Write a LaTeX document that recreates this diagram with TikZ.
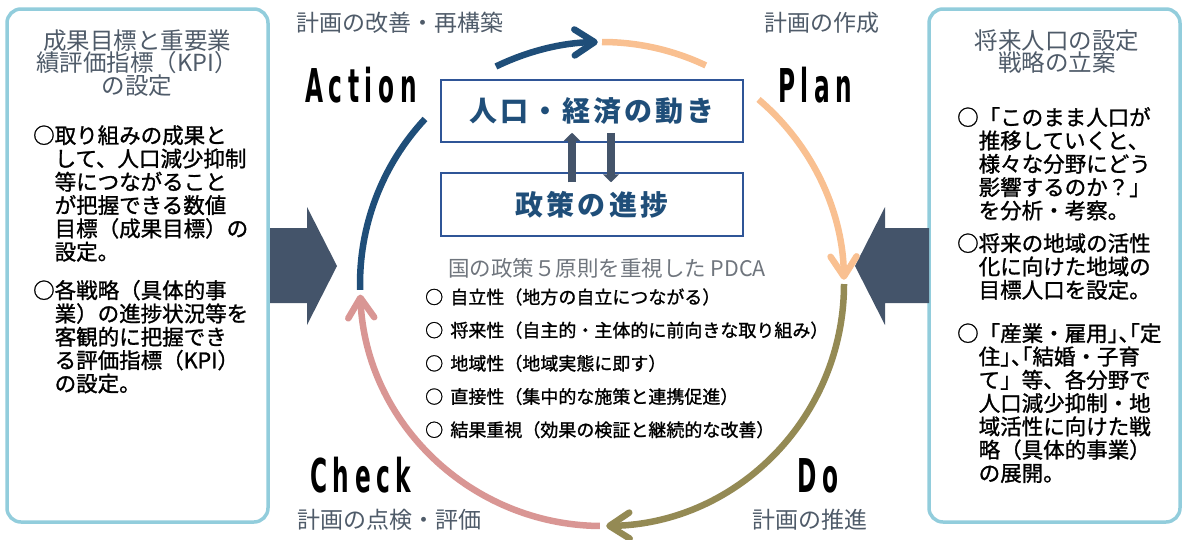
\documentclass[tikz,border=0pt]{standalone}
\usepackage{fontspec}
\usepackage{graphicx}
\usetikzlibrary{arrows.meta}
\setmainfont{Noto Sans CJK JP}
\newfontfamily\pdcafont[LetterSpace=24]{DejaVu Sans}
\newfontfamily\jpbody[FakeBold=1.2]{Noto Sans CJK JP}
\definecolor{sideline}{HTML}{92CDDC}
\definecolor{slate}{HTML}{44546A}
\definecolor{darkblue}{HTML}{1F4E79}
\definecolor{boxblue}{HTML}{2F5597}
\definecolor{arcblue}{HTML}{1F4E79}
\definecolor{arcorange}{HTML}{F9C091}
\definecolor{arcolive}{HTML}{948A54}
\definecolor{arcpink}{HTML}{D99694}
\definecolor{lblcol}{HTML}{4F5B69}
\definecolor{titlecol}{HTML}{6F757D}
\newcommand{\hwl}[1]{\makebox[0.5em][l]{#1}}
\newcommand{\hwr}[1]{\makebox[0.5em][r]{#1}}
\newcommand{\fstrut}{\rule{0pt}{0.88em}}
\newcommand{\nolsl}{\lineskiplimit -50pt\relax}
\tikzset{
  sidebox/.style={draw=sideline, line width=3.5pt, rounded corners=14pt, fill=white, inner sep=0pt},
  bigarrow/.style={fill=slate, draw=none},
  flowbox/.style={draw=boxblue, line width=1.5pt, fill=white, minimum width=302pt, inner sep=0pt,
    text=darkblue, font=\fontsize{28}{30}\selectfont\bfseries\addfontfeature{LetterSpace=11}},
  hdrtext/.style={inner sep=0pt, align=center, text=lblcol,
    font=\fontsize{23.5}{22.5}\selectfont\nolsl},
  bodytext/.style={inner sep=0pt, align=left, text=black, anchor=north west,
    font=\jpbody\fontsize{21.5}{23.3}\selectfont\nolsl},
  steplabel/.style={inner sep=0pt, anchor=west, text=lblcol, font=\fontsize{23}{25}\selectfont},
  pdcalabel/.style={inner sep=0pt, anchor=base west, text=black,
    font=\pdcafont\bfseries\fontsize{46.6}{50}\selectfont},
  listtext/.style={inner sep=0pt, align=left, text=black, anchor=north west,
    font=\jpbody\fontsize{18}{33.2}\selectfont\nolsl},
  arcline/.style={line width=6.5pt},
  arctip/.style={-{Straight Barb[length=20pt,width=26pt,round]}},
  midarrow/.style={draw=slate, line width=7.5pt, -{Triangle[length=8pt,width=16pt]}}
}
\begin{document}
\begin{tikzpicture}[x=1pt,y=-1pt]
\useasboundingbox (0,0) rectangle (1186,539);

% side boxes
\node[sidebox, minimum width=261pt, minimum height=513pt] (lbox) at (137.5,265.5) {};
\node[sidebox, minimum width=251pt, minimum height=513pt] (rbox) at (1054.5,265.5) {};

% big arrows
\fill[bigarrow] (270,228) -- (307,228) -- (307,207) -- (337,266) -- (307,325) -- (307,303) -- (270,303) -- cycle;
\fill[bigarrow] (929,228) -- (885,228) -- (885,207) -- (855,266) -- (885,325) -- (885,303) -- (929,303) -- cycle;

% left box texts
\node[hdrtext, anchor=north] (lhdr) at (137,28.25) {\fstrut 成果目標と重要業\\績評価指標（KPI）\\の設定};
\node[bodytext] (lp1) at (33,124.25) {\fstrut ○取り組みの成果と\\　して、人口減少抑制\\　等につながること\\　が把握できる数値\\　目標（成果目標）の\\　設定。};
\node[bodytext] (lp2) at (33,279.25) {\fstrut ○各戦略（具体的事\\　業）の進捗状況等を\\　客観的に把握でき\\　る評価指標（KPI）\\　の設定。};

% right box texts
\node[hdrtext, anchor=north] (rhdr) at (1057,28.25) {\fstrut 将来人口の設定\\戦略の立案};
\node[bodytext] (rp1) at (957,106.25) {\fstrut ○「このまま人口が\\　推移していくと、\\　様々な分野にどう\\　影響するのか？」\\　を分析・考察。};
\node[bodytext] (rp2) at (957,232.25) {\fstrut ○将来の地域の活性\\　化に向けた地域の\\　目標人口を設定。};
\node[bodytext] (rp3) at (957,322.25) {\fstrut ○「産業・雇用\hwl{」}\hwl{、}\hwr{「}定\\　住\hwl{」}\hwl{、}\hwr{「}結婚・子育\\　て」等、各分野で\\　人口減少抑制・地\\　域活性に向けた戦\\　略（具体的事業）\\　の展開。};

% cycle arcs
\draw[arcline, draw=arcblue] (602,284) ++(178.6:242) arc[start angle=178.6,end angle=223,radius=242];
\draw[arcline, draw=arcblue, arctip] (602,284) ++(244:242) arc[start angle=244,end angle=269,radius=242];
\draw[arcline, draw=arcorange] (602,284) ++(-90:242) arc[start angle=-90,end angle=-64.6,radius=242];
\draw[arcline, draw=arcorange, arctip] (602,284) ++(-49.7:242) arc[start angle=-49.7,end angle=-1,radius=242];
\draw[arcline, draw=arcolive, arctip] (602,284) ++(0:242) arc[start angle=0,end angle=89,radius=242];
\draw[arcline, draw=arcpink, arctip] (602,284) ++(90.5:242) arc[start angle=90.5,end angle=177.5,radius=242];

% step labels
\node[steplabel] (l_act) at (296,23) {計画の改善・再構築};
\node[steplabel] (l_plan) at (764,23) {計画の作成};
\node[steplabel] (l_chk) at (297,520) {計画の点検・評価};
\node[steplabel] (l_do) at (752,520) {計画の推進};

\node[pdcalabel] (act) at (305,102) {\scalebox{0.5}[1]{Action}};
\node[pdcalabel] (plan) at (778,102) {\scalebox{0.5}[1]{Plan}};
\node[pdcalabel] (chk) at (310,492) {\scalebox{0.5}[1]{Check}};
\node[pdcalabel] (do) at (797,492) {\scalebox{0.5}[1]{Do}};

% central boxes
\node[flowbox, minimum height=62pt] (econ) at (592,111) {人口・経済の動き};
\node[flowbox, minimum height=63pt] (policy) at (592,204.5) {政策の進捗};
\draw[midarrow] ([xshift=-20pt,yshift=-10pt]policy.north) -- ([xshift=-20pt,yshift=10pt]econ.south);
\draw[midarrow] ([xshift=19pt,yshift=10pt]econ.south) -- ([xshift=19pt,yshift=-10pt]policy.north);

% principles
\node[inner sep=0pt, text=titlecol, font=\fontsize{21.5}{23}\selectfont] (ttl) at (607,268) {国の政策５原則を重視した PDCA};
\node[listtext] (plist) at (425,287.75) {\fstrut ○\hspace{0.4em}自立性（地方の自立につながる）\\○\hspace{0.4em}将来性（自主的・主体的に前向きな取り組み）\\○\hspace{0.4em}地域性（地域実態に即す）\\○\hspace{0.4em}直接性（集中的な施策と連携促進）\\○\hspace{0.4em}結果重視（効果の検証と継続的な改善）};
\end{tikzpicture}
\end{document}
